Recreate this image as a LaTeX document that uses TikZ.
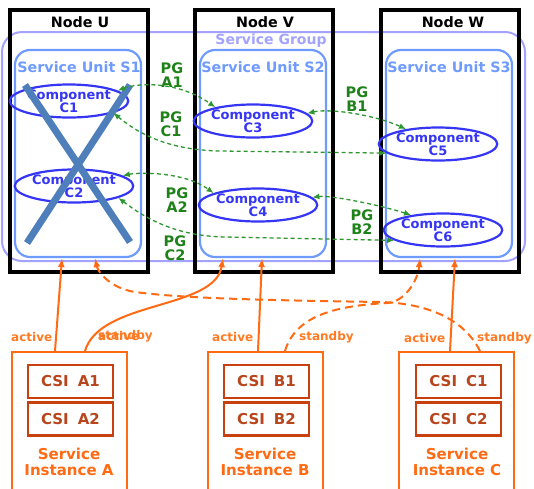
\documentclass[tikz,border=0pt]{standalone}
\usepackage{fontspec}
\setmainfont{DejaVu Sans}
\usetikzlibrary{shapes.geometric,arrows.meta}
\definecolor{sgcol}{HTML}{A3A3FF}
\definecolor{sucol}{HTML}{6F9BFF}
\definecolor{compcol}{HTML}{3535F5}
\definecolor{xcol}{HTML}{4F7FBA}
\definecolor{pgcol}{HTML}{2E962E}
\definecolor{pgtxt}{HTML}{1E8218}
\definecolor{orcol}{HTML}{FF6A13}
\definecolor{ortxt}{HTML}{FF7A22}
\definecolor{csicol}{HTML}{C8400F}
\definecolor{csitxt}{HTML}{B8451C}

\begin{document}
\begin{tikzpicture}[x=1pt,y=-1pt,font=\bfseries,
  hostbox/.style={draw,line width=4pt,minimum width=138pt,minimum height=262pt,inner sep=0pt},
  grpbox/.style={draw=sgcol,line width=2pt,rounded corners=20pt,minimum width=523pt,minimum height=229pt,inner sep=0pt},
  unitbox/.style={draw=sucol,line width=2.2pt,rounded corners=15pt,minimum width=126pt,minimum height=207pt,inner sep=0pt},
  comp/.style={ellipse,draw=compcol,text=compcol,line width=2.2pt,minimum width=92pt,minimum height=33pt,inner sep=0pt,
    align=center,font=\fontsize{13}{13}\selectfont\bfseries},
  pglink/.style={pgcol,dash pattern=on 4pt off 3pt,line width=1.3pt,>={Latex[length=7pt,width=6pt]},<->},
  pglabel/.style={text=pgtxt,align=center,font=\fontsize{14.5}{14.5}\selectfont\bfseries},
  sibox/.style={draw=orcol,line width=2pt,minimum width=115pt,minimum height=140pt,inner sep=0pt},
  csibox/.style={draw=csicol,line width=2.5pt,minimum width=85pt,minimum height=33pt,inner sep=0pt,
    text=csitxt,font=\fontsize{15}{16}\selectfont\bfseries},
  sitext/.style={text=orcol,align=center,font=\fontsize{15}{16}\selectfont\bfseries},
  assign/.style={orcol,line width=2pt,-{Latex[length=9pt,width=7pt]}},
  standbylink/.style={assign,dash pattern=on 8pt off 5pt},
  roletxt/.style={text=ortxt,anchor=west,inner sep=0pt,font=\fontsize{12}{14}\selectfont\bfseries}]
  \useasboundingbox (0,0) rectangle (534,488);

  \node[grpbox] (grp) at (263.5,146.5) {};
  \node[text=sgcol,font=\fontsize{14}{16}\selectfont\bfseries] (grplbl) at (271,41) {Service Group};

  \node[hostbox] (nU) at (79,141) {};
  \node[hostbox] (nV) at (264,141) {};
  \node[hostbox] (nW) at (449.5,141) {};
  \node[font=\fontsize{14.3}{16}\selectfont\bfseries] (lblU) at (80,22) {Node U};
  \node[font=\fontsize{14.3}{16}\selectfont\bfseries] (lblV) at (265,22) {Node V};
  \node[font=\fontsize{14.3}{16}\selectfont\bfseries] (lblW) at (453,22) {Node W};

  \node[unitbox] (s1) at (78,153.5) {};
  \node[unitbox] (s2) at (263,153.5) {};
  \node[unitbox] (s3) at (449,153.5) {};
  \node[text=sucol,font=\fontsize{14.3}{16}\selectfont\bfseries] (lbl1) at (79,67) {Service Unit S1};
  \node[text=sucol,font=\fontsize{14.3}{16}\selectfont\bfseries] (lbl2) at (263,67) {Service Unit S2};
  \node[text=sucol,font=\fontsize{14.3}{16}\selectfont\bfseries] (lbl3) at (449,67) {Service Unit S3};

  \node[comp] (c1) at (69,101) {Component\\C1};
  \node[comp] (c2) at (74,186) {Component\\C2};
  \node[comp] (c3) at (253,121) {Component\\C3};
  \node[comp] (c4) at (258,205) {Component\\C4};
  \node[comp] (c5) at (438,144) {Component\\C5};
  \node[comp] (c6) at (443,230) {Component\\C6};

  \draw[xcol,line width=7pt] (25,85) -- (130,242) (130,85) -- (27,243);

  \draw[pglink] (c1.12) .. controls (140,82) and (180,82) .. (c3.160);
  \draw[pglink] (c2.12) .. controls (140,172) and (185,172) .. (c4.165);
  \draw[pglink] (c3.8) .. controls (330,108) and (375,115) .. (c5.155);
  \draw[pglink] (c4.8) .. controls (330,195) and (380,205) .. (c6.155);
  \draw[pglink] (c1.-15) .. controls (140,135) and (170,150) .. (220,151) -- (c5.190);
  \draw[pglink] (c2.-15) .. controls (145,218) and (175,236) .. (225,237) -- (c6.192);
  \node[pglabel] (pgA1) at (172,75) {PG\\A1};
  \node[pglabel] (pgC1) at (171,124) {PG\\C1};
  \node[pglabel] (pgA2) at (177,200) {PG\\A2};
  \node[pglabel] (pgC2) at (175,248) {PG\\C2};
  \node[pglabel] (pgB1) at (357,99) {PG\\B1};
  \node[pglabel] (pgB2) at (362,222) {PG\\B2};

  \node[sibox] (siA) at (69.5,422) {};
  \node[sibox] (siB) at (265,422) {};
  \node[sibox] (siC) at (456,422) {};
  \node[csibox] (csiA1) at (70.5,381.5) {CSI\hspace{0.6em}A1};
  \node[csibox] (csiA2) at (70.5,419) {CSI\hspace{0.6em}A2};
  \node[csibox] (csiB1) at (266.5,381.5) {CSI\hspace{0.6em}B1};
  \node[csibox] (csiB2) at (266.5,419) {CSI\hspace{0.6em}B2};
  \node[csibox] (csiC1) at (458.5,381.5) {CSI\hspace{0.6em}C1};
  \node[csibox] (csiC2) at (458.5,419) {CSI\hspace{0.6em}C2};
  \node[sitext] (tA) at (69,462) {Service\\Instance A};
  \node[sitext] (tB) at (265,462) {Service\\Instance B};
  \node[sitext] (tC) at (457,462) {Service\\Instance C};

  \draw[assign] ([xshift=-14.5pt]siA.north) -- ([xshift=-16pt]s1.south);
  \draw[assign] ([xshift=15.5pt]siA.north) .. controls (100,300) and (215,310) .. ([xshift=-40pt]s2.south);
  \draw[assign] ([xshift=-7pt]siB.north) -- ([xshift=-1pt]s2.south);
  \draw[standbylink] ([xshift=20pt]siB.north) .. controls (295,318) and (330,306) .. (387,303)
    .. controls (405,302) and (418,280) .. ([xshift=-29pt]s3.south);
  \draw[assign] ([xshift=-6pt]siC.north) -- ([xshift=6pt]s3.south);
  \draw[standbylink] ([xshift=24pt]siC.north) .. controls (462,315) and (420,303) .. (380,302)
    .. controls (250,300) and (180,298) .. (135,292) .. controls (110,288) and (98,272) .. ([xshift=17pt]s1.south);

  \node[roletxt] (actA) at (11,337) {active};
  \node[roletxt] (stbA) at (98,336) {standby};
  \node[roletxt] (actA2) at (98,336) {active};
  \node[roletxt] (actB) at (212,337) {active};
  \node[roletxt] (stbB) at (299,337) {standby};
  \node[roletxt] (actC) at (404,338) {active};
  \node[roletxt] (stbC) at (477,338) {standby};
\end{tikzpicture}
\end{document}
